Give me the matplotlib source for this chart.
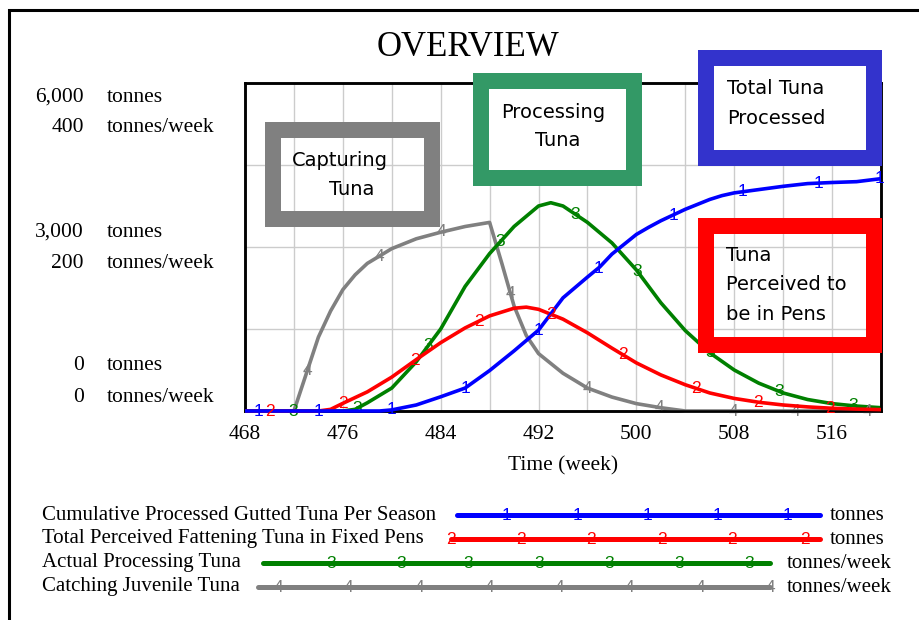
import numpy as np
import matplotlib
matplotlib.use("Agg")
import matplotlib.pyplot as plt
from matplotlib.patches import Rectangle
from matplotlib.lines import Line2D

# --- Data ---
cum_weeks = [468, 479, 480, 482, 484, 486, 488, 490, 491, 492, 494, 495, 496, 497, 498, 500, 501,
             502, 503, 504, 505, 506, 507, 508, 510, 512, 514, 516, 518, 520]
cum_tonnes = [0, 0, 20, 110, 260, 420, 740, 1100, 1290, 1480, 2070, 2260, 2450, 2634, 2870, 3230, 3360,
              3480, 3585, 3690, 3780, 3870, 3940, 3990, 4050, 4110, 4160, 4180, 4195, 4250]

pens_weeks = [468, 474, 475, 476, 478, 480, 482, 484, 486, 488, 490, 491, 492, 494, 496, 498,
              500, 502, 504, 506, 508, 510, 512, 514, 516, 518, 520]
pens_tonnes = [0, 0, 30, 140, 350, 620, 940, 1250, 1520, 1740, 1880, 1900, 1860, 1680, 1430, 1150,
               880, 660, 480, 330, 230, 160, 110, 75, 50, 35, 25]

proc_weeks = [468, 476, 477, 478, 480, 482, 484, 486, 488, 490, 492, 493, 494, 496, 498, 500,
              502, 504, 506, 508, 510, 512, 514, 516, 518, 520]
proc_rate = [0, 0, 2, 10, 28, 60, 100, 152, 192, 225, 250, 254, 250, 230, 205, 172,
             132, 98, 71, 50, 34, 22, 14, 9, 6, 4]

catch_weeks = [468, 472, 473, 474, 475, 476, 477, 478, 480, 482, 484, 486, 488, 489, 490, 491,
               492, 494, 496, 498, 500, 502, 504, 520]
catch_rate = [0, 0, 45, 90, 122, 148, 166, 180, 198, 210, 218, 225, 230, 180, 128, 92,
              70, 46, 28, 17, 9, 4, 0, 0]

# marker-number positions along each curve (weeks)
cum_marks = [469.1, 474, 480, 486, 492, 496.9, 503, 508.7, 514.9, 519.9]
pens_marks = [470, 476, 481.9, 487.1, 493, 498.9, 504.9, 509.9, 515.8]
proc_marks = [471.9, 477.2, 483, 488.9, 495, 500.1, 506, 511.7, 517.7]
catch_marks = [473.1, 479, 484.1, 489.7, 496, 501.9, 507.9, 513, 518.9]

legend_labels = ["Cumulative Processed Gutted Tuna Per Season",
                 "Total Perceived Fattening Tuna in Fixed Pens",
                 "Actual Processing Tuna",
                 "Catching Juvenile Tuna"]
legend_units = ["tonnes", "tonnes", "tonnes/week", "tonnes/week"]

BLUE, RED, GREEN, GRAY = "#0000ff", "#ff0000", "#008000", "#808080"
SERIF = "Liberation Serif"
HAND = "DejaVu Sans"
DIGIT = "Liberation Sans"

W, H = 919, 620


def fx(x):
    return x / W


def fy(y):
    return 1 - y / H


fig = plt.figure(figsize=(W / 100, H / 100), dpi=100)
fig.patch.set_facecolor("white")

# outer frame (left + top only)
fig.add_artist(Line2D([fx(9), fx(9), fx(919)], [fy(620), fy(10), fy(10)],
                      color="black", lw=2.2, solid_joinstyle="miter"))

# --- Main plot ---
ax = fig.add_axes([fx(245), fy(411), fx(636), 328 / H])
ax2 = ax.twinx()
ax.set_xlim(468, 520)
ax.set_ylim(0, 400)
ax2.set_ylim(0, 6000)

ax.set_xticks(np.arange(468, 521, 4))
ax.set_xticklabels([str(t) if (t - 468) % 8 == 0 else "" for t in range(468, 521, 4)],
                   fontsize=15.5, family=SERIF)
ax.set_yticks([0, 100, 200, 300, 400])
ax.set_yticklabels([])
ax2.set_yticks([])
ax.tick_params(length=0, pad=10)
ax.grid(True, color="#cccccc", lw=1.0)
ax.set_axisbelow(True)
for a in (ax, ax2):
    for s in a.spines.values():
        s.set_linewidth(1.8)
        s.set_color("black")
ax.set_xlabel("Time (week)", fontsize=15.5, family=SERIF, labelpad=9)


def draw(a, xs, ys, marks, color, digit):
    a.plot(xs, ys, color=color, lw=2.6, clip_on=False, solid_capstyle="butt", zorder=3)
    for m in marks:
        a.text(m, np.interp(m, xs, ys), digit, color=color, fontsize=12.5, family=DIGIT,
               ha="center", va="center", zorder=4, clip_on=False)


draw(ax, catch_weeks, catch_rate, catch_marks, GRAY, "4")
draw(ax, proc_weeks, proc_rate, proc_marks, GREEN, "3")
draw(ax2, pens_weeks, pens_tonnes, pens_marks, RED, "2")
draw(ax2, cum_weeks, cum_tonnes, cum_marks, BLUE, "1")

# title
fig.text(fx(468), fy(48), "OVERVIEW", fontsize=25, family=SERIF, ha="center", va="center")

# left scale labels
scale_rows = [(97, "6,000", "tonnes"), (128, "400", "tonnes/week"),
              (232, "3,000", "tonnes"), (263, "200", "tonnes/week"),
              (366, "0", "tonnes"), (397, "0", "tonnes/week")]
for y, num, unit in scale_rows:
    fig.text(fx(84), fy(y), num, fontsize=15.5, family=SERIF, ha="right", va="center")
    fig.text(fx(107), fy(y), unit, fontsize=15.5, family=SERIF, ha="left", va="center")

# --- Annotation boxes ---
boxes = [
    ((265, 122, 440, 227), GRAY, False, [("Capturing", 340, 160), ("Tuna", 352, 190)], "center"),
    ((473, 73, 642, 186), "#339966", True, [("Processing", 553, 112), ("Tuna", 558, 141)], "center"),
    ((698, 50, 882, 166), "#3333cc", True, [("Total Tuna", 727, 88), ("Processed", 727, 118)], "left"),
    ((698, 218, 882, 353), "#ff0000", False, [("Tuna", 726, 256), ("Perceived to", 726, 285),
                                              ("be in Pens", 726, 315)], "left"),
]
bw = 16
for (x0, y0, x1, y1), col, filled, lines, ha in boxes:
    fig.add_artist(Rectangle((fx(x0 + bw / 2), fy(y1 - bw / 2)), fx(x1 - x0 - bw), (y1 - y0 - bw) / H,
                             fill=filled, facecolor="white", edgecolor=col, lw=bw * 0.72,
                             joinstyle="miter", zorder=5))
    for txt, x, y in lines:
        fig.text(fx(x), fy(y), txt, fontsize=14, family=HAND, ha=ha, va="center", zorder=6)

# --- Legend ---
leg_rows = [
    (515, 457, 820, [506, 577, 647, 717, 787], BLUE, "1", 830),
    (539, 451, 820, [451, 521, 591, 662, 732, 805], RED, "2", 830),
    (563, 263, 770, [331, 401, 468, 539, 609, 679, 749], GREEN, "3", 787),
    (587, 258, 770, [278, 348, 419, 489, 559, 629, 700, 770], GRAY, "4", 787),
]
for (y, lx0, lx1, mk, col, dg, ux), lab, unit in zip(leg_rows, legend_labels, legend_units):
    fig.text(fx(42), fy(y), lab, fontsize=15, family=SERIF, ha="left", va="center")
    fig.add_artist(Line2D([fx(lx0), fx(lx1)], [fy(y), fy(y)], color=col, lw=3.6,
                          solid_capstyle="round"))
    for m in mk:
        fig.text(fx(m), fy(y), dg, color=col, fontsize=12.5, family=DIGIT,
                 ha="center", va="center")
    fig.text(fx(ux), fy(y), unit, fontsize=15, family=SERIF, ha="left", va="center")

fig.savefig("out.png", dpi=100, facecolor="white")
